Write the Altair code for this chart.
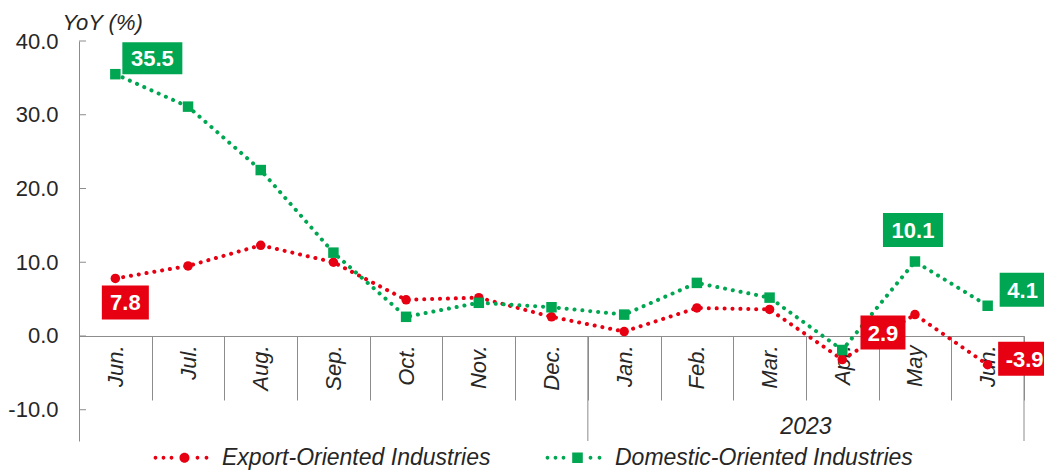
import altair as alt
import pandas as pd

# ---------------- data ----------------
months = ["Jun.", "Jul.", "Aug.", "Sep.", "Oct.", "Nov.", "Dec.",
          "Jan.", "Feb.", "Mar.", "Apr.", "May", "Jun."]
export_vals = [7.8, 9.5, 12.3, 10.0, 4.9, 5.2, 2.6, 0.6, 3.8, 3.6, -3.2, 2.9, -3.9]
domestic_vals = [35.5, 31.1, 22.5, 11.3, 2.6, 4.5, 3.9, 2.9, 7.2, 5.2, -1.9, 10.1, 4.1]
series_names = ["Export-Oriented Industries", "Domestic-Oriented Industries"]
year_label = ["2023"]
year_start = [7]
year_end = [12]
y_ticks = [-10, 0, 10, 20, 30, 40]

# ---------------- style ----------------
RED = "#E60012"
GREEN = "#00A651"
GRAY = "#8c8c8c"
TXT = "#262626"
FONT = "Liberation Sans"
W, H = 945, 400
Y_MIN, Y_MAX = -14.24, 40.0

idx = list(range(len(months)))
all_vals = export_vals + domestic_vals
df = pd.DataFrame({
    "i": idx + idx,
    "series": [series_names[0]] * len(idx) + [series_names[1]] * len(idx),
    "value": all_vals,
    "label": [f"{v:.1f}" for v in all_vals],
})

zero_px = H * (Y_MAX - 0) / (Y_MAX - Y_MIN)
label_expr = "[" + ",".join("'%s'" % m for m in months) + "][datum.value]"

x_scale = alt.Scale(type="band", domain=idx, paddingInner=0, paddingOuter=0)
y_scale = alt.Scale(domain=[Y_MIN, Y_MAX], nice=False, zero=False)

x_axis = alt.Axis(
    title=None, orient="bottom", offset=zero_px - H,
    domainColor=GRAY, domainWidth=1,
    tickBand="extent", tickSize=64, tickColor=GRAY, tickWidth=1,
    labelAngle=-90, labelAlign="right", labelBaseline="middle",
    labelPadding=-55, labelFont=FONT, labelFontSize=22, labelFontStyle="italic",
    labelColor=TXT, labelExpr=label_expr, labelOverlap=False, grid=False,
)
y_axis = alt.Axis(
    title="YoY (%)", titleAngle=0, titleX=-17, titleY=-12, titleAlign="left",
    titleBaseline="alphabetic", titleFont=FONT, titleFontSize=22,
    titleFontStyle="italic", titleFontWeight="normal", titleColor=TXT,
    values=y_ticks, labelExpr="replace(format(datum.value, '.1f'), '\u2212', '-')",
    labelFont=FONT, labelFontSize=22,
    labelColor=TXT, labelPadding=21, ticks=False, grid=False,
    domainColor=GRAY, domainWidth=1,
)

X = alt.X("i:O", scale=x_scale, axis=x_axis)
Y = alt.Y("value:Q", scale=y_scale, axis=y_axis)

base = alt.Chart(df).encode(x=X, y=Y)

def line_for(name, color):
    return base.transform_filter(alt.datum.series == name).mark_line(
        strokeDash=[0.1, 7.8], strokeCap="round", strokeWidth=4, color=color)

pts_exp = base.transform_filter(alt.datum.series == series_names[0]).mark_point(
    shape="circle", filled=True, size=90, opacity=1, color=RED)
pts_dom = base.transform_filter(alt.datum.series == series_names[1]).mark_point(
    shape="square", filled=True, size=110, opacity=1, color=GREEN)


def rect_path(dx, dy, w, h):
    l, r, t, b = dx - w / 2, dx + w / 2, dy - h / 2, dy + h / 2
    return f"M{l},{t}L{r},{t}L{r},{b}L{l},{b}Z"


def tag(series, i, dx, dy, w, h, color):
    sel = base.transform_filter(
        (alt.datum.series == series) & (alt.datum.i == i))
    box = sel.mark_point(shape=rect_path(dx, dy, w, h), size=4, filled=True,
                         opacity=1, color=color, strokeWidth=0)
    txt = sel.mark_text(dx=dx, dy=dy + 1, font=FONT, fontSize=22, fontWeight="bold",
                        color="white", align="center", baseline="middle").encode(
        text=alt.Text("label:N"))
    return [box, txt]

tag_layers = (
    tag(series_names[1], 0, 37, -16, 60, 32, GREEN)
    + tag(series_names[0], 0, 10, 24, 47, 34, RED)
    + tag(series_names[1], 11, -2, -31.5, 60, 34, GREEN)
    + tag(series_names[1], 12, 35, -16, 46, 34, GREEN)
    + tag(series_names[0], 11, -32, 18, 45, 34, RED)
    + tag(series_names[0], 12, 37, -6, 53, 34, RED)
)

# y-axis inward ticks
tick_df = pd.DataFrame({"value": y_ticks})
yticks = alt.Chart(tick_df).mark_rule(color=GRAY, strokeWidth=1).encode(
    y=Y, x=alt.value(0), x2=alt.value(7))

# year group
grp = pd.DataFrame({"label": year_label, "start": year_start, "end": year_end})
grp["mid"] = [(s + e + 1) // 2 for s, e in zip(year_start, year_end)]
grp["value"] = 0
grp_base = alt.Chart(grp)
g_start = grp_base.mark_rule(color=GRAY, strokeWidth=1).encode(
    x=alt.X("start:O", bandPosition=0, scale=x_scale, axis=x_axis),
    y=Y, y2=alt.value(H))
g_end = grp_base.mark_rule(color=GRAY, strokeWidth=1).encode(
    x=alt.X("end:O", bandPosition=1, scale=x_scale, axis=x_axis),
    y=Y, y2=alt.value(H))
g_text = grp_base.mark_text(font=FONT, fontSize=23, fontStyle="italic", color=TXT,
                            align="center", baseline="middle").encode(
    x=alt.X("mid:O", bandPosition=0, scale=x_scale, axis=x_axis),
    y=alt.value(386), text="label:N")

# legend (custom symbols: dotted line with marker)
def dot(x, r=1.9):
    return f"M{x-r},0A{r},{r} 0 1,0 {x+r},0A{r},{r} 0 1,0 {x-r},0Z"

def square(x, s):
    return f"M{x-s},{-s}L{x+s},{-s}L{x+s},{s}L{x-s},{s}Z"

path_exp = "".join(dot(x) for x in [-29, -21, -13, 13, 22]) + dot(0, 5)
path_dom = "".join(dot(x) for x in [-30, -22, -14, 13, 22]) + square(0, 5.3)

leg_props = dict(
    title=None, orient="none", legendX=94, legendY=405, direction="horizontal",
    symbolSize=4, symbolStrokeWidth=0, symbolOpacity=1,
    labelFont=FONT, labelFontSize=23, labelFontStyle="italic", labelColor=TXT,
    labelOffset=26, columnPadding=54, padding=0, labelLimit=0,
)
legend_layer = alt.Chart(pd.DataFrame({"series": series_names})).transform_filter(
    "false").mark_point(filled=True).encode(
    fill=alt.Fill("series:N", scale=alt.Scale(domain=series_names, range=[RED, GREEN]),
                  legend=alt.Legend(**leg_props)),
    shape=alt.Shape("series:N", scale=alt.Scale(domain=series_names, range=[path_exp, path_dom]),
                    legend=alt.Legend(**leg_props)),
)

chart = alt.layer(
    line_for(series_names[0], RED), line_for(series_names[1], GREEN),
    yticks, g_start, g_end, g_text, pts_exp, pts_dom, *tag_layers, legend_layer
).properties(
    width=W, height=H,
    padding={"left": 71, "top": 33, "right": 20, "bottom": 29},
    autosize=alt.AutoSizeParams(type="none"),
).configure(background="white", view=alt.ViewConfig(stroke=None))

chart.save("out.html", embed_options={"renderer": "svg", "actions": False})
